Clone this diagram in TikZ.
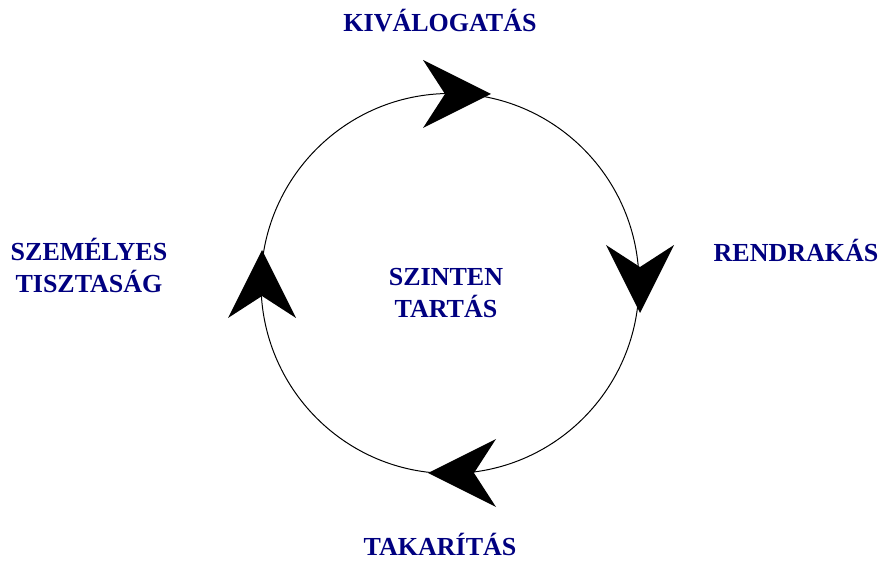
\documentclass[tikz,border=0pt]{standalone}
\usepackage{fontspec}
\setmainfont{Liberation Serif}
\usepackage{xcolor}
\usetikzlibrary{positioning}
\definecolor{stagenavy}{HTML}{000080}
\tikzset{
  stage/.style={text=stagenavy,font=\bfseries\fontsize{26}{32}\selectfont,align=center,anchor=base,inner sep=0pt},
  cyclehead/.pic={\fill[black] (0,0) -- (-68,34) -- (-46,0) -- (-68,-34) -- cycle;}
}

\begin{document}
\begin{tikzpicture}[x=1pt,y=1pt]
   \useasboundingbox (0,0) rectangle (885,562);
   \coordinate (c) at (450,278.5);
   \draw[line width=1pt] (c) ellipse [x radius=189, y radius=190];
   % arrow heads on the cycle
   \pic at (491,468) {cyclehead};
   \pic[rotate=-90] at (640,249) {cyclehead};
   \pic[rotate=180] at (428,89) {cyclehead};
   \pic[rotate=90] at (262,312) {cyclehead};
   % labels
   \node[stage] (s_kiv) at (440,530) {KIVÁLOGATÁS};
   \node[stage] (s_rend) at (796,300) {RENDRAKÁS};
   \node[stage] (s_tak) at (440,7) {TAKARÍTÁS};
   \node[stage] (s_szem) at (89,269) {SZEMÉLYES\\TISZTASÁG};
   \node[stage] (s_core) at (446,244) {SZINTEN\\TARTÁS};
\end{tikzpicture}
\end{document}
